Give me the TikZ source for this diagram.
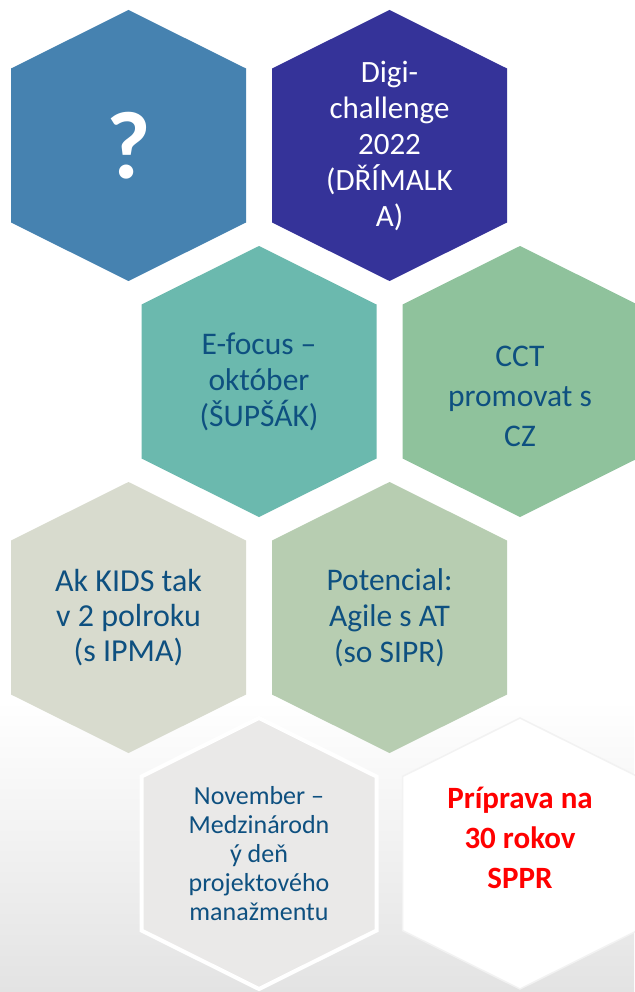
\documentclass[tikz,border=0pt]{standalone}
\usepackage{fontspec}
\setmainfont{Carlito}
\usetikzlibrary{positioning}
\definecolor{hexsteel}{RGB}{70,130,176}
\definecolor{hexindigo}{RGB}{53,51,153}
\definecolor{hexteal}{RGB}{107,185,174}
\definecolor{hexmint}{RGB}{143,194,156}
\definecolor{hexstone}{RGB}{216,219,206}
\definecolor{hexsage}{RGB}{183,205,177}
\definecolor{hexmist}{RGB}{234,233,232}
\definecolor{navytext}{RGB}{14,80,128}
\definecolor{alertred}{RGB}{255,0,0}
\newcommand{\CellFont}{\fontsize{31.5}{36}\selectfont}
\tikzset{
    hexcell/.pic = {
    \path[pic actions] (0,-135.5) -- (117.5,-77) -- (117.5,77)
        -- (0,135.5) -- (-117.5,77) -- (-117.5,-77) -- cycle;
    },
    celltext/.style={align=center, inner sep=0pt, text=navytext, font=\CellFont},
    lighttext/.append style={celltext, text=white},
}

\begin{document}
\begin{tikzpicture}[x=1pt, y=-1pt]
    \useasboundingbox (0,0) rectangle (634,992);
    \fill[white] (0,0) rectangle (634,992);
    \shade[top color=white, bottom color=black!11] (0,700) rectangle (634,992);

    % centres of the cells
    \coordinate (c1) at (128.5,145.5);
    \coordinate[right=261pt of c1] (c2);
    \coordinate[below right=236pt and 130.5pt of c1] (c3);
    \coordinate[right=261pt of c3] (c4);
    \coordinate[below=472pt of c1] (c5);
    \coordinate[right=261pt of c5] (c6);
    \coordinate[below=472pt of c3] (c7);
    \coordinate[right=261pt of c7] (c8);

    \pic[fill=hexsteel] at (c1) {hexcell};
    \pic[fill=hexindigo] at (c2) {hexcell};
    \pic[fill=hexteal] at (c3) {hexcell};
    \pic[fill=hexmint] at (c4) {hexcell};
    \pic[fill=hexstone] at (c5) {hexcell};
    \pic[fill=hexsage] at (c6) {hexcell};
    \pic[fill=hexmist, draw=white, line width=4pt] at (c7) {hexcell};
    \pic[fill=white, draw=black!5, line width=1.5pt] at (c8) {hexcell};

    \node[lighttext, font=\fontsize{96}{100}\selectfont\bfseries] (question) at (c1) {?};
    \node[lighttext, font=\fontsize{31}{36}\selectfont] (digi) at (c2) {Digi-\\challenge\\2022\\(DŘÍMALK\\A)};
    \node[celltext] (efocus) at (c3) {E-focus –\\október\\(ŠUPŠÁK)};
    \node[celltext, font=\fontsize{31.5}{40}\selectfont, yshift=-15pt] (cct) at (c4) {CCT\\promovat s\\CZ};
    \node[celltext, font=\fontsize{32}{35}\selectfont] (kids) at (c5) {Ak KIDS tak\\v 2 polroku\\(s IPMA)};
    \node[celltext] (agile) at (c6) {Potencial:\\Agile s AT\\(so SIPR)};
    \node[celltext, font=\fontsize{26}{29}\selectfont] (november) at (c7)
        {November –\\Medzinárodn\\ý deň\\projektového\\manažmentu};
    \node[celltext, text=alertred, font=\fontsize{31}{40}\selectfont\bfseries, yshift=16pt] (sppr) at (c8)
        {Príprava na\\30 rokov\\SPPR};
\end{tikzpicture}
\end{document}
